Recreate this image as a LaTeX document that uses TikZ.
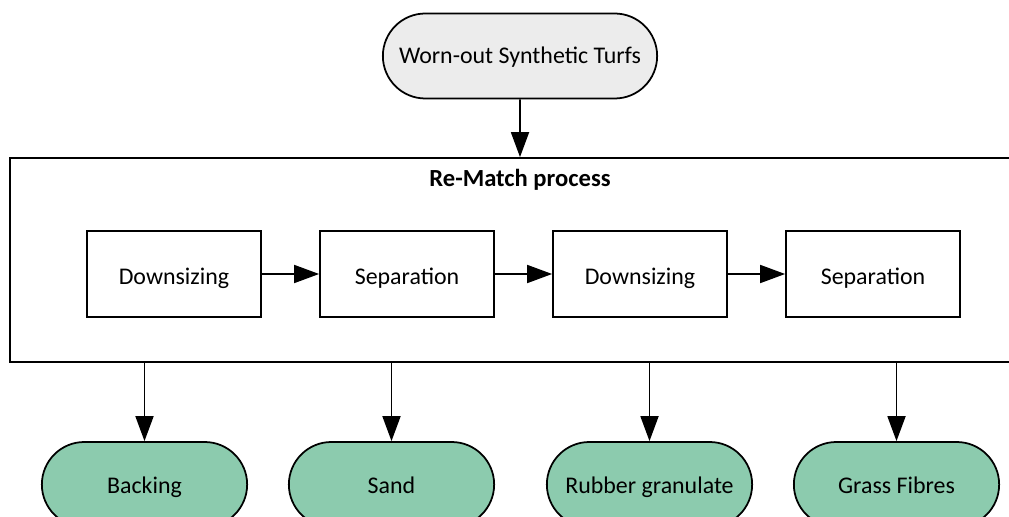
\documentclass[tikz,border=0pt]{standalone}
\usepackage{fontspec}
\setmainfont{Carlito}
\usetikzlibrary{arrows.meta,shapes.misc}
\usetikzlibrary{positioning}
\tikzset{>={Triangle[length=5mm,width=3.6mm]}}
\definecolor{turfgray}{RGB}{236,236,236}
\definecolor{outgreen}{RGB}{140,203,174}

\begin{document}
\begin{tikzpicture}[font=\fontsize{13.6}{16}\selectfont, line width=1pt,
		source/.style={rounded rectangle, draw, fill=turfgray, minimum width=5.72cm, minimum height=1.7cm, text height=3.2mm, text depth=0mm},
		stage/.style={rectangle, draw, minimum width=3.48cm, minimum height=1.72cm, text height=4.3mm, text depth=0mm},
		product/.style={rounded rectangle, draw, fill=outgreen, minimum width=4.34cm, minimum height=1.7cm, text height=3.5mm, text depth=0mm},
		node distance=4.66cm, on grid, auto]
		\useasboundingbox (0,0) rectangle (20.18,-10.34);
		\clip (0,0) rectangle (20.18,-10.34);
		\node[source] (turf) at (10.4,-1.12) {Worn-out Synthetic Turfs};
		\node[draw, minimum width=20.4cm, minimum height=4.08cm] (proc) at (10.4,-5.2) {};
		\node (title) at ([yshift=-0.46cm]proc.north) {\fontsize{14}{16}\selectfont\bfseries Re-Match process};
		\node[stage] (down1) at (3.48,-5.48) {Downsizing};
		\node[stage] (sep1) [right=of down1] {Separation};
		\node[stage] (down2) [right=of sep1] {Downsizing};
		\node[stage] (sep2) [right=of down2] {Separation};
		\node[product] (backing) at (2.89,-9.69) {Backing};
		\node[product] (sand) at (7.83,-9.69) {Sand};
		\node[product] (rubber) at (12.99,-9.69) {Rubber granulate};
		\node[product] (grass) at (17.93,-9.69) {Grass Fibres};
		\draw[->] (turf) -- (turf |- proc.north);
		\draw[->] (down1) -- (sep1);
		\draw[->] (sep1) -- (down2);
		\draw[->] (down2) -- (sep2);
		\foreach \out in {backing,sand,rubber,grass}
			\draw[->] (proc.south -| \out.north) -- (\out.north);
	\end{tikzpicture}
\end{document}
